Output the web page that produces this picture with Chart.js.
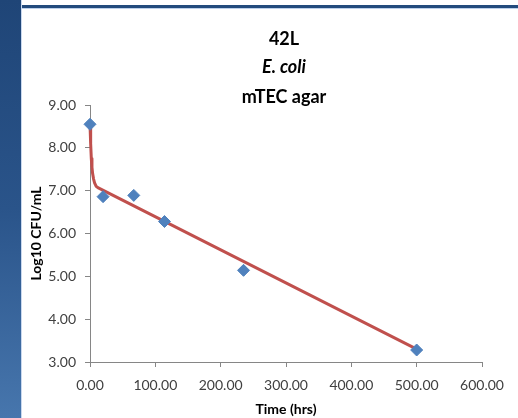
<!DOCTYPE html>
<html>
<head>
<meta charset="utf-8">
<title>42L E. coli mTEC agar</title>
<script src="https://cdn.jsdelivr.net/npm/chart.js@4.4.1/dist/chart.umd.min.js"></script>
<style>
    html, body { margin: 0; padding: 0; background: #ffffff; }
    #wrap { position: relative; width: 518px; height: 418px; overflow: hidden; }
    #topBar { position: absolute; left: 0; top: 5px; width: 518px; height: 3px; background: #234b7d; border-bottom: 1px solid #bcd0ea; }
    #leftBar { position: absolute; left: 0; top: 0; width: 21px; height: 418px;
        background: linear-gradient(to bottom, #1f4577 0%, #2a548a 50%, #4776ad 100%);
        border-right: 1px solid #c9d8ee; }
    #chart { position: absolute; left: 0; top: 0; }
</style>
</head>
<body>
<div id="wrap">
    <div id="topBar"></div>
    <div id="leftBar"></div>
    <canvas id="chart" width="518" height="418"></canvas>
</div>
<script>
// Observed counts
const timeHrs = [0, 20, 67, 114, 235, 500];
const logCfu = [8.55, 6.86, 6.89, 6.28, 5.14, 3.28];

// Fitted (biphasic) curve
const fitTime = [0, 1, 2, 3, 4, 5.5, 7, 9.5, 12, 500];
const fitLog = [8.55, 8.1, 7.75, 7.55, 7.4, 7.27, 7.18, 7.1, 7.07, 3.3];

const titleLines = ['42L', 'E. coli', 'mTEC agar'];
const xTicks = [0, 100, 200, 300, 400, 500, 600];
const yTicks = [3, 4, 5, 6, 7, 8, 9];

const axisGrey = '#868686';
const labelGrey = '#404040';
const fontFamily = 'Lato, "Open Sans", sans-serif';

// Three title lines, the middle one in italics
const titlePlugin = {
    id: 'stackedTitle',
    afterDraw(chart) {
        const ctx = chart.ctx;
        ctx.save();
        ctx.fillStyle = '#000000';
        ctx.textAlign = 'center';
        ctx.textBaseline = 'alphabetic';
        const baselines = [45, 73, 103];
        titleLines.forEach((line, i) => {
            ctx.font = (i === 1 ? 'italic ' : '') + 'bold 18px ' + fontFamily;
            ctx.fillText(line, 284, baselines[i]);
        });
        ctx.restore();
    }
};

const toPoints = (xs, ys) => xs.map((x, i) => ({ x: x, y: ys[i] }));

new Chart(document.getElementById('chart'), {
    type: 'scatter',
    data: {
        datasets: [
            {
                label: 'Observed',
                data: toPoints(timeHrs, logCfu),
                pointStyle: 'rectRot',
                pointRadius: 6,
                pointHoverRadius: 6,
                backgroundColor: '#4f81bd',
                borderColor: '#4f81bd',
                borderWidth: 1,
                showLine: false,
                clip: false,
                order: 0
            },
            {
                label: 'Fit',
                data: toPoints(fitTime, fitLog),
                showLine: true,
                borderColor: '#c0504d',
                borderWidth: 3,
                borderJoinStyle: 'round',
                borderCapStyle: 'round',
                pointRadius: 0,
                tension: 0,
                clip: false,
                order: 1
            }
        ]
    },
    options: {
        responsive: false,
        animation: false,
        layout: { padding: { top: 105, right: 36, left: 0, bottom: 0 } },
        plugins: {
            legend: { display: false },
            title: { display: false },
            tooltip: { enabled: false }
        },
        scales: {
            x: {
                type: 'linear',
                min: 0,
                max: 600,
                afterFit(scale) { scale.height = 56; },
                afterBuildTicks(scale) { scale.ticks = xTicks.map(v => ({ value: v })); },
                border: { color: axisGrey, width: 1 },
                grid: { drawOnChartArea: false, drawTicks: true, tickLength: 5, color: axisGrey },
                ticks: {
                    padding: 10,
                    color: labelGrey,
                    font: { family: fontFamily, size: 14 },
                    callback: v => v.toFixed(2)
                },
                title: {
                    display: true,
                    text: 'Time (hrs)',
                    color: '#000000',
                    font: { family: fontFamily, size: 14, weight: 'bold' },
                    padding: { top: 0, bottom: 0 }
                }
            },
            y: {
                type: 'linear',
                min: 3,
                max: 9,
                afterFit(scale) { scale.width = 90; },
                afterBuildTicks(scale) { scale.ticks = yTicks.map(v => ({ value: v })); },
                border: { color: axisGrey, width: 1 },
                grid: { drawOnChartArea: false, drawTicks: true, tickLength: 5, color: axisGrey },
                ticks: {
                    padding: 9,
                    color: labelGrey,
                    font: { family: fontFamily, size: 14 },
                    callback: v => v.toFixed(2)
                },
                title: {
                    display: true,
                    text: 'Log10 CFU/mL',
                    color: '#000000',
                    font: { family: fontFamily, size: 14, weight: 'bold' },
                    padding: { top: 28, bottom: 0 }
                }
            }
        }
    },
    plugins: [titlePlugin]
});
</script>
</body>
</html>
